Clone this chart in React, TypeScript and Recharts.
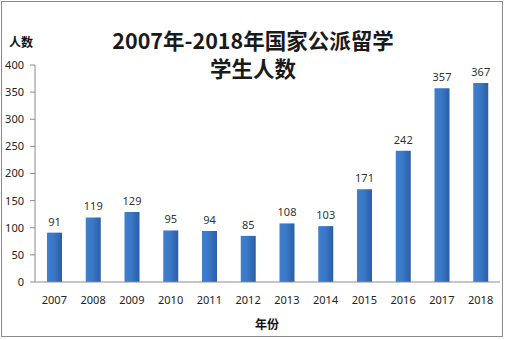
import React from 'react';
import { BarChart, Bar, XAxis, YAxis, LabelList } from 'recharts';

const years = ['2007', '2008', '2009', '2010', '2011', '2012', '2013', '2014', '2015', '2016', '2017', '2018'];
const counts = [91, 119, 129, 95, 94, 85, 108, 103, 171, 242, 357, 367];
const yTicks = [0, 50, 100, 150, 200, 250, 300, 350, 400];
const titleLine1 = '2007年-2018年国家公派留学';
const titleLine2 = '学生人数';
const yLabel = '人数';
const xLabel = '年份';

const data = years.map((y, i) => ({ year: y, value: counts[i] }));

const FONT = '"Noto Sans", "Noto Sans CJK SC", sans-serif';
const CJK = '"Noto Sans CJK SC", sans-serif';

export default function App() {
  return (
    <div style={{ position: 'absolute', left: 0, top: 0, width: 506, height: 340, background: '#fff' }}>
      <div style={{ position: 'absolute', left: 1, top: 1, width: 502, height: 336, border: '1px solid #8a8a8a', boxSizing: 'border-box' }} />
      <BarChart width={506} height={340} data={data} margin={{ top: 65, right: 6, left: 0, bottom: 28 }} barSize={15}>
        <defs>
          <linearGradient id="barGrad" x1="0" y1="0" x2="1" y2="0">
            <stop offset="0%" stopColor="#3f7fcf" />
            <stop offset="45%" stopColor="#3a78c6" />
            <stop offset="100%" stopColor="#2a5da8" />
          </linearGradient>
        </defs>
        <XAxis
          dataKey="year"
          axisLine={{ stroke: '#8c8c8c' }}
          tickLine={false}
          tickSize={6}
          tickMargin={8}
          height={30}
          tick={{ fill: '#222', fontSize: 11, fontFamily: FONT }}
          interval={0}
        />
        <YAxis
          domain={[0, 400]}
          ticks={yTicks}
          width={35}
          axisLine={{ stroke: '#8c8c8c' }}
          tickLine={{ stroke: '#8c8c8c' }}
          tickSize={5}
          tickMargin={6}
          tick={{ fill: '#222', fontSize: 11, fontFamily: FONT }}
          interval={0}
        />
        <Bar dataKey="value" fill="url(#barGrad)" isAnimationActive={false}>
          <LabelList dataKey="value" position="top" offset={7} style={{ fill: '#333', fontSize: 11, fontFamily: FONT }} />
        </Bar>
      </BarChart>
      <div style={{ position: 'absolute', left: 0, width: 506, top: 25, textAlign: 'center', fontFamily: CJK, fontWeight: 'bold', fontSize: 21.5, lineHeight: '30px', color: '#1a1a1a' }}>
        {titleLine1}
      </div>
      <div style={{ position: 'absolute', left: 0, width: 506, top: 53, textAlign: 'center', fontFamily: CJK, fontWeight: 'bold', fontSize: 21.5, lineHeight: '30px', color: '#1a1a1a' }}>
        {titleLine2}
      </div>
      <div style={{ position: 'absolute', left: 9, top: 34, fontFamily: CJK, fontWeight: 'bold', fontSize: 12, lineHeight: '16px', color: '#111' }}>
        {yLabel}
      </div>
      <div style={{ position: 'absolute', left: 0, width: 534, top: 316, textAlign: 'center', fontFamily: CJK, fontWeight: 'bold', fontSize: 12, lineHeight: '16px', color: '#111' }}>
        {xLabel}
      </div>
    </div>
  );
}
